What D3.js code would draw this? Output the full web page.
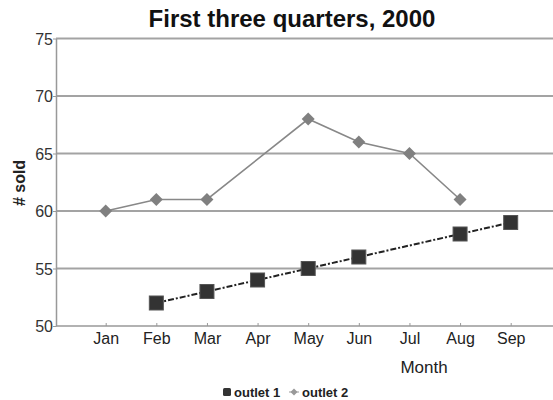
<!DOCTYPE html>
<html><head><meta charset="utf-8">
<script src="https://cdn.jsdelivr.net/npm/d3@7"></script>
<style>body{margin:0;background:#fff}svg{display:block;font-family:"Liberation Sans",Arial,sans-serif}</style>
</head><body>
<svg id="c" width="553" height="400"></svg>
<script>
const months = ["Jan","Feb","Mar","Apr","May","Jun","Jul","Aug","Sep"];
const outlet1 = [null,52,53,54,55,56,null,58,59];
const outlet2 = [60,61,61,null,68,66,65,61,null];
const yTicks = [50,55,60,65,70,75];
const title = "First three quarters, 2000";
const xTitle = "Month", yTitle = "# sold";
const seriesNames = ["outlet 1","outlet 2"];

const svg = d3.select("#c");
const L = 56, R = 553, T = 38.5, B = 326;
const x = d3.scalePoint().domain(months).range([105.7, 510.7]);
const y = d3.scaleLinear().domain([50,75]).range([B, T]);

// gridlines
svg.append("g").selectAll("line").data(yTicks.slice(1)).join("line")
  .attr("x1", L).attr("x2", R).attr("y1", d=>y(d)).attr("y2", d=>y(d))
  .attr("stroke", "#a3a3a3").attr("stroke-width", 2);

// y axis
const ya = svg.append("g").attr("transform", `translate(${L},0)`)
  .call(d3.axisLeft(y).tickValues(yTicks).tickSize(3).tickSizeOuter(0));
ya.select(".domain").attr("stroke","#999").attr("stroke-width",1.5);
ya.selectAll(".tick line").attr("stroke","#999");
ya.selectAll("text").attr("font-size",16).attr("fill","#333").attr("x",-3).attr("dy","0.35em");

// x axis
const xa = svg.append("g").attr("transform", `translate(0,${B})`)
  .call(d3.axisBottom(x).tickSize(-3).tickSizeOuter(0));
xa.select(".domain").remove();
xa.append("line").attr("x1",L).attr("x2",R).attr("stroke","#999").attr("stroke-width",1.5);
xa.selectAll(".tick line").attr("stroke","#999");
xa.selectAll("text").attr("font-size",16).attr("fill","#222").attr("y",7).attr("dy","0.71em");

// lines
const line = d3.line().x(d=>x(d.m)).y(d=>y(d.v));
const d1 = months.map((m,i)=>({m, v: outlet1[i]})).filter(d=>d.v!=null);
const d2 = months.map((m,i)=>({m, v: outlet2[i]})).filter(d=>d.v!=null);

svg.append("path").datum(d2).attr("d", line).attr("fill","none")
  .attr("stroke","#888").attr("stroke-width",1.6);
svg.append("path").datum(d1).attr("d", line).attr("fill","none")
  .attr("stroke","#222").attr("stroke-width",2).attr("stroke-dasharray","6,2,2,2");

const dia = r => `M0,${-r}L${r},0L0,${r}L${-r},0Z`;
svg.append("g").selectAll("path").data(d2).join("path")
  .attr("d", dia(6.5)).attr("transform", d=>`translate(${x(d.m)},${y(d.v)})`)
  .attr("fill","#808080");
svg.append("g").selectAll("rect").data(d1).join("rect")
  .attr("x", d=>x(d.m)-7).attr("y", d=>y(d.v)-7).attr("width",14).attr("height",14)
  .attr("fill","#333").attr("stroke","#555").attr("stroke-width",1);

// titles
svg.append("text").attr("x",292).attr("y",27).attr("text-anchor","middle")
  .attr("font-size",24).attr("font-weight","bold").attr("fill","#111").text(title);
svg.append("text").attr("x",424).attr("y",373).attr("text-anchor","middle")
  .attr("font-size",17).attr("fill","#222").text(xTitle);
svg.append("text").attr("transform","translate(25,183) rotate(-90)").attr("text-anchor","middle")
  .attr("font-size",16).attr("font-weight","bold").attr("fill","#222").text(yTitle);

// legend
const lg = svg.append("g").attr("transform","translate(0,397)");
lg.append("rect").attr("x",223).attr("y",-9).attr("width",8).attr("height",8).attr("rx",1.5).attr("fill","#333");
lg.append("text").attr("x",234).attr("y",0).attr("font-size",13).attr("font-weight","bold").attr("fill","#222").text(seriesNames[0]);
lg.append("line").attr("x1",289).attr("x2",299).attr("y1",-5).attr("y2",-5).attr("stroke","#999").attr("stroke-width",1);
lg.append("path").attr("d", dia(3.5)).attr("transform","translate(294,-5)").attr("fill","#999");
lg.append("text").attr("x",302).attr("y",0).attr("font-size",13).attr("font-weight","bold").attr("fill","#222").text(seriesNames[1]);
</script>
</body></html>
